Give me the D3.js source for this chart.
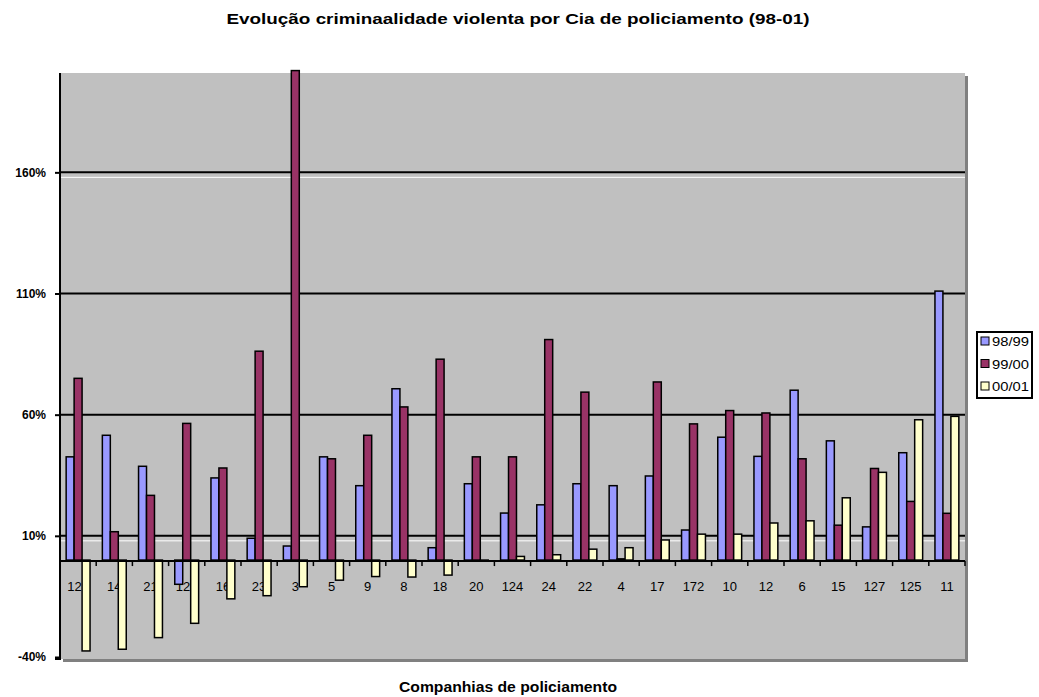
<!DOCTYPE html>
<html>
<head>
<meta charset="utf-8">
<script src="https://cdn.jsdelivr.net/npm/d3@7"></script>
<style>
  html, body { margin: 0; padding: 0; background: #fff; }
  svg { display: block; font-family: "Liberation Sans", Arial, sans-serif; }
</style>
</head>
<body>
<svg id="chart" width="1039" height="697"></svg>
<script>
const categories = ["125","14","21","123","16","23","3","5","9","8","18","20","124","24","22","4","17","172","10","12","6","15","127","125","11"];
const seriesNames = ["98/99","99/00","00/01"];
const s9899 = [42.6, 51.5, 38.7, -10, 33.9, 9, 5.8, 42.6, 30.7, 70.7, 5.1, 31.5, 19.4, 22.8, 31.5, 30.7, 34.7, 12.4, 50.7, 42.8, 70.1, 49.2, 13.7, 44.3, 111];
const s9900 = [75, 11.7, 26.7, 56.4, 38, 86.2, 202, 41.8, 51.5, 63.2, 82.9, 42.6, 42.6, 91, 69.3, 0.5, 73.5, 56.2, 61.7, 60.7, 41.8, 14.4, 37.8, 24.2, 19.3];
const s0001 = [-37.5, -36.8, -32, -26.1, -16, -14.7, -11, -8.3, -6.8, -7, -6.2, 0, 1.5, 2.2, 4.5, 5.1, 8.3, 10.7, 10.7, 15.3, 16.2, 25.7, 36.2, 57.9, 59.3];
const tickValues = [-40, 10, 60, 110, 160];
const titleText = "Evolução criminaalidade violenta por Cia de policiamento (98-01)";
const xTitle = "Companhias de policiamento";
const colors = ["#9999FF", "#993366", "#FFFFCC"];

const series = [s9899, s9900, s0001];
const svg = d3.select("#chart");

const plot = {left: 60, right: 965, top: 73, bottom: 659};

const x0 = d3.scaleBand().domain(d3.range(categories.length)).range([plot.left, plot.right]).padding(0);
const bw = x0.bandwidth();
const x1 = d3.scaleBand().domain(d3.range(3)).range([bw * 0.17, bw * 0.83]).padding(0);
const y = d3.scaleLinear().domain([-40, 201]).range([657, plot.top]);

// plot background with shadow
svg.append("rect").attr("x", plot.left + 3).attr("y", plot.top + 3)
  .attr("width", plot.right - plot.left).attr("height", plot.bottom - plot.top)
  .attr("fill", "#808080");
svg.append("rect").attr("x", plot.left).attr("y", plot.top)
  .attr("width", plot.right - plot.left).attr("height", plot.bottom - plot.top)
  .attr("fill", "#C0C0C0");

// gridlines
const gridVals = tickValues.filter(v => v > -40);
svg.append("g").selectAll("line").data(gridVals).join("line")
  .attr("x1", plot.left).attr("x2", plot.right)
  .attr("y1", d => y(d)).attr("y2", d => y(d))
  .attr("stroke", "#000").attr("stroke-width", 2);
// white artifact lines
svg.append("g").selectAll("line").data([160, 10]).join("line")
  .attr("x1", plot.left).attr("x2", plot.right)
  .attr("y1", d => y(d) + 5).attr("y2", d => y(d) + 5)
  .attr("stroke", "#fff").attr("stroke-width", 1);

// category labels (beneath bars)
svg.append("g").selectAll("text").data(categories).join("text")
  .attr("x", (d, i) => x0(i) + bw / 2)
  .attr("y", 591)
  .attr("text-anchor", "middle")
  .attr("font-size", 13)
  .attr("fill", "#000")
  .text(d => d);

// bars
const gBars = svg.append("g");
categories.forEach((c, i) => {
  series.forEach((s, k) => {
    const v = s[i];
    gBars.append("rect")
      .attr("x", x0(i) + x1(k))
      .attr("width", x1.bandwidth())
      .attr("y", Math.min(y(v), y(0)))
      .attr("height", Math.max(Math.abs(y(v) - y(0)), 0.5))
      .attr("fill", colors[k])
      .attr("stroke", "#000")
      .attr("stroke-width", 1.5);
  });
});

// zero axis with ticks
svg.append("line").attr("x1", plot.left).attr("x2", plot.right)
  .attr("y1", y(0) + 1).attr("y2", y(0) + 1).attr("stroke", "#000").attr("stroke-width", 2);
svg.append("g").selectAll("line").data(d3.range(categories.length + 1)).join("line")
  .attr("x1", i => plot.left + i * bw).attr("x2", i => plot.left + i * bw)
  .attr("y1", y(0) + 1).attr("y2", y(0) + 6)
  .attr("stroke", "#000").attr("stroke-width", 1.5);

// y axis
const yAxis = d3.axisLeft(y).tickValues(tickValues).tickSize(5).tickFormat(d => d + "%");
const gy = svg.append("g").attr("transform", `translate(${plot.left},0)`).call(yAxis);
gy.select(".domain").attr("stroke", "#000").attr("stroke-width", 2)
  .attr("d", `M0,${plot.top}V${plot.bottom}H-5`);
gy.selectAll(".tick line").attr("stroke", "#000").attr("stroke-width", 2);
gy.selectAll(".tick text").attr("font-size", 12).attr("font-weight", "bold")
  .attr("font-family", "Liberation Sans, Arial, sans-serif").attr("fill", "#000").attr("x", -14);

// title
svg.append("text").attr("x", 518).attr("y", 24).attr("text-anchor", "middle")
  .attr("font-size", 15).attr("font-weight", "bold").attr("textLength", 583).attr("lengthAdjust", "spacingAndGlyphs")
  .text(titleText);

// x axis title
svg.append("text").attr("x", 508).attr("y", 692).attr("text-anchor", "middle")
  .attr("font-size", 14).attr("font-weight", "bold").attr("textLength", 218).attr("lengthAdjust", "spacingAndGlyphs")
  .text(xTitle);

// legend
const lg = svg.append("g").attr("transform", "translate(977,332)");
lg.append("rect").attr("width", 55).attr("height", 66).attr("fill", "#fff")
  .attr("stroke", "#000").attr("stroke-width", 2);
seriesNames.forEach((n, k) => {
  const cy = 9 + k * 22.5;
  lg.append("rect").attr("x", 4).attr("y", cy - 4).attr("width", 8).attr("height", 8)
    .attr("fill", colors[k]).attr("stroke", "#000").attr("stroke-width", 1);
  lg.append("text").attr("x", 15).attr("y", cy + 5).attr("font-size", 13)
    .attr("textLength", 37).attr("lengthAdjust", "spacingAndGlyphs").text(n);
});
</script>
</body>
</html>
